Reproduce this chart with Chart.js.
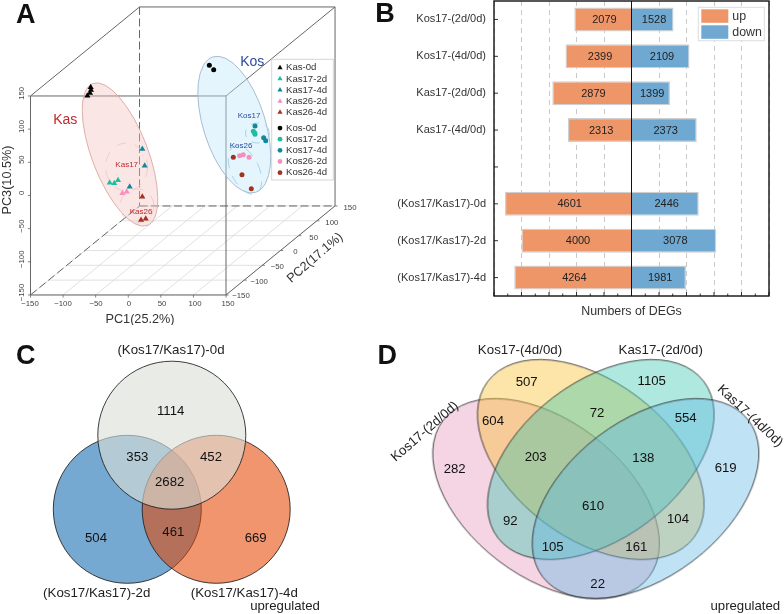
<!DOCTYPE html>
<html>
<head>
<meta charset="utf-8">
<style>
body { margin: 0; background: #fff; }
canvas { position: absolute; }
</style>
<script src="https://cdn.jsdelivr.net/npm/chart.js@4/dist/chart.umd.js"></script>
</head>
<body>
<canvas id="panelA" width="370" height="325" style="left:0;top:0"></canvas>
<canvas id="panelB" width="414" height="320" style="left:370px;top:0"></canvas>
<canvas id="panelC" width="370" height="294" style="left:0;top:320px"></canvas>
<canvas id="panelD" width="414" height="294" style="left:370px;top:320px"></canvas>
<script>
// panel A, PCA scores as [PC1, PC3] on the front face
const kas0d = [[-57.6, 163], [-57.2, 159], [-58.7, 154.5], [-62.8, 150.5]];
const kas172d = [[-28.5, 19.3], [-21.4, 18.4], [-15.7, 22.9]];
const kas174d = [[21.6, 70.1], [25.2, 44.9], [2.2, 13.3]];
const kas262d = [[-9.1, 3.3], [-2.4, 5.7]];
const kas264d = [[21.6, -1.8], [19.6, -36.9], [26.8, -35]];
const kos0d = [[124.4, 196.3], [131.1, 189.6]];
const kos172d = [[191.9, 96.8], [194, 94.7], [194.5, 92.3]];
const kos174d = [[194.5, 104.8], [207.8, 87.1], [210.9, 82.6]];
const kos262d = [[171, 60], [176.5, 61.5], [185.3, 57.6]];
const kos264d = [[161.2, 57.6], [174.5, 31.4], [188.8, 10.3]];
const pcaTicks = [-150, -100, -50, 0, 50, 100, 150];

// panel B
const degLabels = ['Kos17-(2d/0d)', 'Kos17-(4d/0d)', 'Kas17-(2d/0d)', 'Kas17-(4d/0d)', '',
  '(Kos17/Kas17)-0d', '(Kos17/Kas17)-2d', '(Kos17/Kas17)-4d'];
const degUp = [2079, 2399, 2879, 2313, null, 4601, 4000, 4264];
const degDown = [1528, 2109, 1399, 2373, null, 2446, 3078, 1981];

// panel C and D counts
const vennCSets = ['(Kos17/Kas17)-0d', '(Kos17/Kas17)-2d', '(Kos17/Kas17)-4d'];
const vennCCounts = [1114, 353, 452, 2682, 504, 461, 669];
const vennDSets = ['Kos17-(2d/0d)', 'Kos17-(4d/0d)', 'Kas17-(2d/0d)', 'Kas17-(4d/0d)'];
const vennDCounts = [507, 1105, 604, 72, 554, 282, 203, 138, 619, 610, 92, 104, 105, 161, 22];

const FONT = '"Liberation Sans", Arial, sans-serif';
Chart.defaults.font.family = FONT;
Chart.defaults.animation = false;
Chart.defaults.responsive = false;
Chart.defaults.layout.autoPadding = false;
Chart.defaults.plugins.legend.display = false;
Chart.defaults.plugins.tooltip.enabled = false;

// text drawn on top of a panel
const panelText = {
  id: 'panelText',
  afterDraw(chart, args, opts) {
    const ctx = chart.ctx;
    (opts.items || []).forEach(it => {
      ctx.save();
      ctx.translate(it.x, it.y);
      ctx.rotate((it.rot || 0) * Math.PI / 180);
      ctx.font = (it.bold ? 'bold ' : '') + it.size + 'px ' + FONT;
      ctx.fillStyle = it.color || '#222';
      ctx.textAlign = it.align || 'center';
      ctx.textBaseline = 'middle';
      ctx.fillText(it.t, 0, 0);
      ctx.restore();
    });
  }
};
Chart.register(panelText);

function pts(arr) { return arr.map(p => ({ x: p[0], y: p[1] })); }

// ---- A ----
const DEPTH_X = 167.3, DEPTH_Y = 134.2;
function proj(a, b, c) {
  return [a + (b + 150) / 300 * DEPTH_X, c + (b + 150) / 300 * DEPTH_Y];
}
const pcaGroups = [
  ['Kas-0d', kas0d, '#000000', 'triangle'],
  ['Kas17-2d', kas172d, '#1cbfa0', 'triangle'],
  ['Kas17-4d', kas174d, '#15879c', 'triangle'],
  ['Kas26-2d', kas262d, '#f78fbe', 'triangle'],
  ['Kas26-4d', kas264d, '#a4321f', 'triangle'],
  ['Kos-0d', kos0d, '#000000', 'circle'],
  ['Kos17-2d', kos172d, '#1cbfa0', 'circle'],
  ['Kos17-4d', kos174d, '#15879c', 'circle'],
  ['Kos26-2d', kos262d, '#f78fbe', 'circle'],
  ['Kos26-4d', kos264d, '#a4321f', 'circle']
];
const pcaBox = {
  id: 'pcaBox',
  beforeDatasetsDraw(chart) {
    const ctx = chart.ctx, sx = chart.scales.x, sy = chart.scales.y;
    const seg = (p, q) => {
      const a = proj(...p), b = proj(...q);
      ctx.beginPath();
      ctx.moveTo(sx.getPixelForValue(a[0]), sy.getPixelForValue(a[1]));
      ctx.lineTo(sx.getPixelForValue(b[0]), sy.getPixelForValue(b[1]));
      ctx.stroke();
    };
    ctx.save();
    // floor grid
    ctx.strokeStyle = '#d9d9d9';
    ctx.lineWidth = 0.8;
    pcaTicks.forEach(t => {
      seg([t, -150, -150], [t, 150, -150]);
      seg([-150, t, -150], [150, t, -150]);
    });
    // hidden edges
    ctx.strokeStyle = '#666';
    ctx.lineWidth = 1;
    ctx.setLineDash([8, 3.5]);
    seg([-150, 150, 150], [-150, 150, -150]);
    seg([-150, 150, -150], [150, 150, -150]);
    seg([-150, -150, -150], [-150, 150, -150]);
    ctx.setLineDash([]);
    // visible edges
    seg([-150, -150, 150], [150, -150, 150]);
    seg([150, -150, 150], [150, -150, -150]);
    seg([150, -150, -150], [-150, -150, -150]);
    seg([-150, -150, -150], [-150, -150, 150]);
    seg([-150, -150, 150], [-150, 150, 150]);
    seg([-150, 150, 150], [150, 150, 150]);
    seg([150, 150, 150], [150, -150, 150]);
    seg([150, 150, 150], [150, 150, -150]);
    seg([150, 150, -150], [150, -150, -150]);
    // tick marks
    ctx.lineWidth = 0.8;
    pcaTicks.forEach(t => {
      seg([t, -150, -150], [t, -150, -154]);
      seg([-150, -150, t], [-154, -150, t]);
      seg([150, t, -150], [154, t, -150]);
    });
    // group ellipses, pixels of this panel
    const oval = (x, y, a, b, rot, fill, line, dash) => {
      ctx.beginPath();
      ctx.ellipse(x, y, a, b, rot * Math.PI / 180, 0, Math.PI * 2);
      if (fill) { ctx.fillStyle = fill; ctx.fill(); }
      ctx.strokeStyle = line;
      ctx.lineWidth = 0.9;
      ctx.setLineDash(dash || []);
      ctx.stroke();
      ctx.setLineDash([]);
    };
    oval(120, 154.5, 28, 76, -21, 'rgba(243,190,185,0.38)', '#dca6a3');
    oval(234.3, 124.6, 31, 71, -17.5, 'rgba(190,232,252,0.42)', '#9fb5c9');
    oval(126.5, 167, 21, 24, 0, null, '#f0c8c8', [10, 9]);
    oval(137, 206, 17, 17, 0, null, '#f0c8c8', [10, 9]);
    oval(257.5, 133, 12, 10, 0, null, '#9fd0e6', [8, 7]);
    oval(245, 170, 14, 26, -25, null, '#9fd0e6', [10, 8]);
    ctx.restore();
  },
  afterDatasetsDraw(chart) {
    // legend box built from the datasets
    const ctx = chart.ctx;
    ctx.save();
    ctx.fillStyle = 'rgba(255,255,255,0.85)';
    ctx.strokeStyle = '#d5d5d5';
    ctx.fillRect(271.7, 59.3, 61.6, 120.7);
    ctx.strokeRect(271.7, 59.3, 61.6, 120.7);
    ctx.font = '9.6px ' + FONT;
    ctx.textBaseline = 'middle';
    chart.data.datasets.forEach((ds, i) => {
      const y = 67.7 + i * 11.15 + (i > 4 ? 4.6 : 0);
      ctx.fillStyle = ds.backgroundColor;
      Chart.helpers.drawPoint(ctx, { pointStyle: ds.pointStyle, radius: ds.pointStyle === 'circle' ? 2.4 : 3, rotation: 0, borderWidth: 0 }, 280, y);
      ctx.fillStyle = '#333';
      ctx.fillText(ds.label, 286, y);
    });
    ctx.restore();
  }
};
// tick and title text of the box
const pcaText = [
  { t: 'A', x: 25.7, y: 15.5, size: 27, bold: true, color: '#111' },
  { t: 'PC1(25.2%)', x: 140, y: 319, size: 12.7, color: '#333' },
  { t: 'PC3(10.5%)', x: 7, y: 180, size: 12.7, rot: -90, color: '#333' },
  { t: 'PC2(17.1%)', x: 315, y: 258, size: 12.7, rot: -41, color: '#333' },
  { t: 'Kas', x: 65.3, y: 120, size: 14, color: '#c0282d' },
  { t: 'Kos', x: 252.3, y: 62, size: 14, color: '#2a4ba0' },
  { t: 'Kas17', x: 126.7, y: 165, size: 8, color: '#c0282d' },
  { t: 'Kas26', x: 141, y: 211.7, size: 8, color: '#c0282d' },
  { t: 'Kos17', x: 249, y: 115.7, size: 8, color: '#2a4ba0' },
  { t: 'Kos26', x: 241, y: 145.7, size: 8, color: '#2a4ba0' }
];
pcaTicks.forEach((t, i) => {
  const s = String(t).replace('-', '\u2212');
  pcaText.push({ t: s, x: 30 + i * 33, y: 304, size: 7.8, color: '#444' });
  pcaText.push({ t: s, x: 21.5, y: 292.5 - i * 33.2, size: 7.8, rot: -90, color: '#444' });
  pcaText.push({ t: s, x: 241 + i * 18.17, y: 296.3 - i * 14.67, size: 7.8, color: '#444' });
});
new Chart(document.getElementById('panelA'), {
  type: 'scatter',
  data: {
    datasets: pcaGroups.map(g => ({
      label: g[0],
      data: pts(g[1]),
      backgroundColor: g[2],
      borderWidth: 0,
      pointStyle: g[3],
      pointRadius: g[3] === 'circle' ? 2.5 : 3.5
    }))
  },
  options: {
    layout: { padding: 0 },
    scales: {
      x: { display: false, min: -196.8, max: 370 / 0.6517 - 196.8 },
      y: { display: false, min: 294.7 - 325 / 0.6633, max: 294.7 }
    },
    plugins: { panelText: { items: pcaText } }
  },
  plugins: [pcaBox]
});

// ---- B ----
const barFrame = {
  id: 'barFrame',
  afterDatasetsDraw(chart) {
    const ctx = chart.ctx, a = chart.chartArea, sx = chart.scales.x, sy = chart.scales.y;
    ctx.save();
    ctx.strokeStyle = '#333';
    ctx.lineWidth = 1;
    sx.ticks.forEach(tk => {
      const x = sx.getPixelForValue(tk.value), major = tk.value % 1000 === 0;
      ctx.beginPath();
      ctx.moveTo(x, a.bottom);
      ctx.lineTo(x, a.bottom - (major ? 4 : 2.5));
      ctx.stroke();
    });
    degLabels.forEach((l, i) => {
      const y = sy.getPixelForValue(i);
      ctx.beginPath();
      ctx.moveTo(a.left, y);
      ctx.lineTo(a.left + 4, y);
      ctx.stroke();
    });
    // zero line
    ctx.strokeStyle = '#111';
    const x0 = sx.getPixelForValue(0);
    ctx.beginPath();
    ctx.moveTo(x0, a.top);
    ctx.lineTo(x0, a.bottom);
    ctx.stroke();
    ctx.lineWidth = 1.4;
    ctx.strokeRect(a.left, a.top, a.right - a.left, a.bottom - a.top);
    // numbers on the bars
    ctx.fillStyle = '#222';
    ctx.font = '11px ' + FONT;
    ctx.textAlign = 'center';
    ctx.textBaseline = 'middle';
    chart.data.datasets.forEach(ds => {
      ds.data.forEach((v, i) => {
        if (v === null) return;
        ctx.fillText(Math.abs(v), sx.getPixelForValue(v / 2) + 1.5, sy.getPixelForValue(i) + 0.5);
      });
    });
    // legend
    const lx = 328.3, ly = 7.3;
    ctx.fillStyle = '#fff';
    ctx.strokeStyle = '#ddd';
    ctx.lineWidth = 1;
    ctx.fillRect(lx, ly, 66, 33.4);
    ctx.strokeRect(lx, ly, 66, 33.4);
    chart.data.datasets.forEach((ds, i) => {
      const y = ly + 2 + i * 16;
      ctx.fillStyle = ds.backgroundColor;
      ctx.fillRect(lx + 3, y, 27, 13.5);
      ctx.fillStyle = '#333';
      ctx.font = '12.4px ' + FONT;
      ctx.textAlign = 'left';
      ctx.fillText(ds.label, lx + 34, y + 7);
    });
    ctx.restore();
  }
};
new Chart(document.getElementById('panelB'), {
  type: 'bar',
  data: {
    labels: degLabels,
    datasets: [
      { label: 'up', data: degUp.map(v => v === null ? null : -v), backgroundColor: '#ef9668' },
      { label: 'down', data: degDown, backgroundColor: '#6fa8d0' }
    ]
  },
  options: {
    indexAxis: 'y',
    layout: { padding: { top: 1, right: 15 } },
    datasets: { bar: { barPercentage: 0.65, categoryPercentage: 1, borderColor: '#cfcfcf', borderWidth: 1.2 } },
    scales: {
      x: {
        stacked: true,
        min: -5000,
        max: 5000,
        afterFit(s) { s.height = 24; s.paddingLeft = 0; s.paddingRight = 0; },
        ticks: { stepSize: 500, display: false, autoSkip: false },
        grid: {
          drawTicks: false,
          color: c => c.tick.value % 1000 === 0 ? '#c9c9c9' : 'transparent'
        },
        border: { display: false, dash: [5, 4] },
        title: { display: true, text: 'Numbers of DEGs', color: '#333', font: { size: 12.4 }, padding: { top: 0, bottom: 1 } }
      },
      y: {
        stacked: true,
        afterFit(s) { s.width = 124; s.paddingTop = 0; s.paddingBottom = 0; },
        grid: { display: false, drawTicks: false },
        border: { display: false },
        ticks: { color: '#333', font: { size: 11 }, padding: 8, autoSkip: false }
      }
    },
    plugins: { panelText: { items: [{ t: 'B', x: 15, y: 14.5, size: 27, bold: true, color: '#111' }] } }
  },
  plugins: [barFrame]
});

// ---- C ----
const vennCCircles = [
  { c: [171.8, 115.2], r: 74, fill: 'rgba(220,222,215,0.62)' },
  { c: [216.2, 189.3], r: 74, fill: 'rgba(228,69,0,0.57)' },
  { c: [127.3, 189.3], r: 74, fill: '#75a9d2' }
];
const vennCSpots = [[170.7, 91.7], [137.3, 137.3], [211, 137.3], [169.7, 162.3], [96, 218.7], [173.3, 212.7], [255.7, 218.7]];
const vennCText = [
  { t: 'C', x: 25.7, y: 36.7, size: 27, bold: true, color: '#111' },
  { t: vennCSets[0], x: 171, y: 30.7, size: 13.3 },
  { t: vennCSets[1], x: 96.7, y: 273.3, size: 13.3 },
  { t: vennCSets[2], x: 244.3, y: 273.3, size: 13.3 },
  { t: 'upregulated', x: 285, y: 286, size: 13.2 }
];
vennCCounts.forEach((n, i) => vennCText.push({ t: n, x: vennCSpots[i][0], y: vennCSpots[i][1], size: 13.2, color: '#111' }));
new Chart(document.getElementById('panelC'), {
  type: 'bubble',
  data: {
    datasets: vennCCircles.map(v => ({
      data: [{ x: v.c[0], y: v.c[1], r: v.r }],
      backgroundColor: v.fill,
      borderColor: 'rgba(30,30,30,0.85)',
      borderWidth: 1
    }))
  },
  options: {
    layout: { padding: 0 },
    scales: {
      x: { display: false, min: 0, max: 370 },
      y: { display: false, min: 0, max: 294, reverse: true }
    },
    plugins: { panelText: { items: vennCText } }
  }
});

// ---- D ----
// each set is a rotated ellipse, drawn as the point style of its own dataset
function ovalSprite(a, b, rot, fill) {
  const cv = document.createElement('canvas');
  cv.width = cv.height = 2 * a + 10;
  const g = cv.getContext('2d');
  g.beginPath();
  g.ellipse(a + 5, a + 5, a, b, rot * Math.PI / 180, 0, Math.PI * 2);
  g.fillStyle = fill;
  g.fill();
  g.strokeStyle = 'rgba(30,30,30,0.8)';
  g.lineWidth = 1;
  g.stroke();
  return cv;
}
const vennDOvals = [
  { c: [275.3, 178.3], rot: -37.2, fill: 'rgba(95,182,230,0.4)' },
  { c: [230.5, 139.2], rot: -37.2, fill: 'rgba(52,197,172,0.4)' },
  { c: [220.5, 139.2], rot: 37.2, fill: 'rgba(250,187,37,0.4)' },
  { c: [175.7, 178.3], rot: 37.2, fill: 'rgba(230,150,185,0.4)' }
];
const vennDSpots = [[156.7, 62.3], [281.7, 61], [123, 101.7], [227, 93], [315.7, 98.7], [84.7, 149.3], [165.7, 137.3],
  [273.3, 138.7], [355.7, 148.3], [223, 186.3], [140.3, 201], [308, 199], [182.7, 227], [266.3, 227], [227.7, 264]];
const vennDText = [
  { t: 'D', x: 17.3, y: 36.7, size: 27, bold: true, color: '#111' },
  { t: vennDSets[0], x: 55, y: 111.7, size: 13.3, rot: -41 },
  { t: vennDSets[1], x: 150, y: 30.7, size: 13.3 },
  { t: vennDSets[2], x: 290.7, y: 30.7, size: 13.3 },
  { t: vennDSets[3], x: 380, y: 96, size: 13.3, rot: 43 },
  { t: 'upregulated', x: 375.3, y: 286, size: 13.2 }
];
vennDCounts.forEach((n, i) => vennDText.push({ t: n, x: vennDSpots[i][0], y: vennDSpots[i][1], size: 13.2, color: '#111' }));
new Chart(document.getElementById('panelD'), {
  type: 'scatter',
  data: {
    datasets: vennDOvals.map(v => ({
      data: [{ x: v.c[0], y: v.c[1] }],
      pointStyle: ovalSprite(129.3, 78.3, v.rot, v.fill)
    }))
  },
  options: {
    layout: { padding: 0 },
    scales: {
      x: { display: false, min: 0, max: 414 },
      y: { display: false, min: 0, max: 294, reverse: true }
    },
    plugins: { panelText: { items: vennDText } }
  }
});
</script>
</body>
</html>
